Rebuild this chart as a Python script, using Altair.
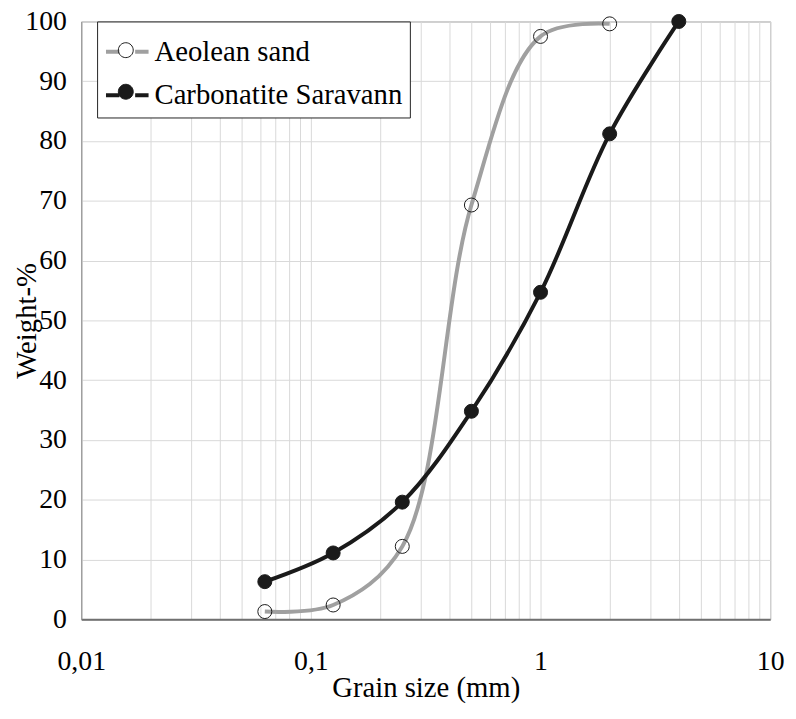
import altair as alt
import pandas as pd

# ---- data ----
sizes_aeolean = [0.063, 0.125, 0.25, 0.5, 1, 2]
weight_aeolean = [1.3, 2.4, 12.2, 69.3, 97.5, 99.6]
sizes_carb = [0.063, 0.125, 0.25, 0.5, 1, 2, 4]
weight_carb = [6.3, 11.1, 19.6, 34.8, 54.7, 81.2, 100]
series_names = ["Aeolean sand", "Carbonatite Saravann"]
x_grid_values = [0.01, 0.02, 0.03, 0.04, 0.05, 0.06, 0.07, 0.08, 0.09,
                 0.1, 0.2, 0.3, 0.4, 0.5, 0.6, 0.7, 0.8, 0.9,
                 1, 2, 3, 4, 5, 6, 7, 8, 9, 10]
y_values = [0, 10, 20, 30, 40, 50, 60, 70, 80, 90, 100]

rows = []
for i, (x, y) in enumerate(zip(sizes_aeolean, weight_aeolean)):
    rows.append({"size": x, "weight": y, "series": series_names[0], "series2": series_names[0], "o": i})
for i, (x, y) in enumerate(zip(sizes_carb, weight_carb)):
    rows.append({"size": x, "weight": y, "series": series_names[1], "series2": series_names[1], "o": i})
df = pd.DataFrame(rows)

FONT = "Liberation Serif, Times New Roman, DejaVu Serif, serif"
GRAY = "#a0a0a0"
BLACK = "#1a1a1a"
SYM = 43 * 43

x_enc = alt.X(
    "size:Q",
    scale=alt.Scale(type="log", domain=[0.01, 10], nice=False),
    axis=alt.Axis(
        title="Grain size (mm)",
        values=x_grid_values,
        labelExpr="datum.value == 0.01 ? '0,01' : datum.value == 0.1 ? '0,1' : datum.value == 1 ? '1' : datum.value == 10 ? '10' : ''",
        labelFlush=False,
        labelOverlap=False,
        ticks=False,
        grid=True,
        labelPadding=29,
        titlePadding=-2,
        domainColor="#707070",
        domainWidth=2,
    ),
)
y_enc = alt.Y(
    "weight:Q",
    scale=alt.Scale(domain=[0, 100], nice=False),
    axis=alt.Axis(
        title="Weight-%",
        values=y_values,
        ticks=False,
        grid=True,
        labelPadding=15,
        titleX=-55,
        titleY=302,
        titleAngle=270,
        titleAlign="center",
        titleBaseline="middle",
        labelFlush=False,
        domainColor="#909090",
        domainWidth=1,
    ),
)

legend_common = dict(
    title=None,
    orient="none",
    legendX=16,
    legendY=0,
    symbolSize=SYM,
    labelFont=FONT,
    labelFontSize=29,
    labelLimit=0,
    labelOffset=4,
    padding=7,
    rowPadding=5,
)

lines = alt.Chart(df).mark_line(interpolate="catmull-rom", strokeWidth=4).encode(
    x=x_enc,
    y=y_enc,
    order="o:Q",
    stroke=alt.Stroke(
        "series:N",
        scale=alt.Scale(domain=series_names, range=[GRAY, BLACK]),
        legend=alt.Legend(
            symbolType="M-1,0L-0.37,0M0.37,0L1,0",
            symbolStrokeWidth=4,
            labelColor="black",
            fillColor="white",
            strokeColor="#222222",
            zindex=0,
            **legend_common,
        ),
    ),
)

points = alt.Chart(df).mark_point(filled=True, shape="circle", size=200, stroke=BLACK, strokeWidth=1, opacity=1).encode(
    x=x_enc,
    y=y_enc,
    fill=alt.Fill(
        "series2:N",
        scale=alt.Scale(domain=series_names, range=["transparent", BLACK]),
        legend=alt.Legend(
            symbolType="M-0.35,0A0.35,0.35,0,1,1,0.35,0A0.35,0.35,0,1,1,-0.35,0Z",
            symbolStrokeWidth=1,
            symbolStrokeColor=BLACK,
            labelOpacity=0,
            labelColor="transparent",
            zindex=1,
            **legend_common,
        ),
    ),
)

chart = (
    alt.layer(lines, points)
    .resolve_legend(stroke="independent", fill="independent")
    .properties(
        width=696,
        height=604,
        autosize=alt.AutoSizeParams(type="none"),
        padding={"left": 74, "top": 10, "right": 18, "bottom": 88},
    )
    .configure(font=FONT)
    .configure_view(stroke="#909090", strokeWidth=1)
    .configure_axis(
        labelFont=FONT,
        titleFont=FONT,
        labelFontSize=28,
        titleFontSize=29,
        labelColor="black",
        titleColor="black",
        titleFontWeight="normal",
        gridColor="#d9d9d9",
        gridWidth=1,
    )
    .configure_legend(labelFont=FONT, labelFontSize=29, labelLimit=0)
)

chart.save("out.html", embed_options={"renderer": "svg", "actions": False})
